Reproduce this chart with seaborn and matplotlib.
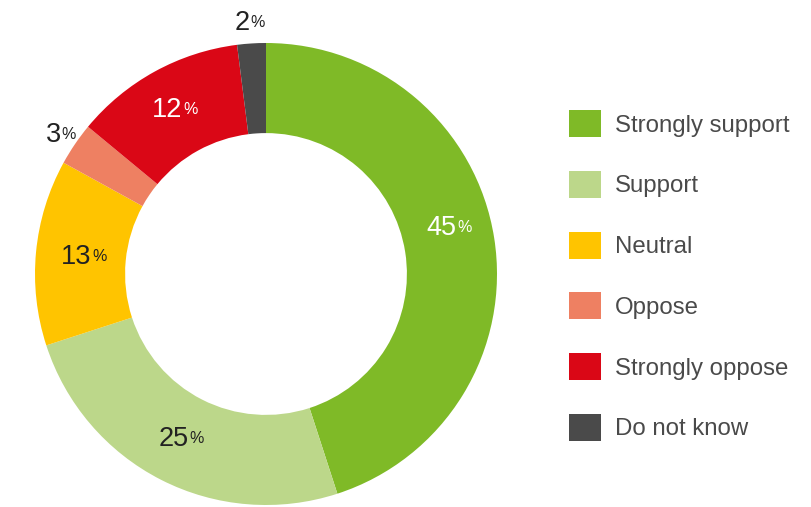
import matplotlib
matplotlib.use('Agg')
import matplotlib.pyplot as plt
import seaborn as sns
import numpy as np
from matplotlib.patches import Patch

# Data
categories = ['Strongly support', 'Support', 'Neutral', 'Oppose', 'Strongly oppose', 'Do not know']
shares = [45, 25, 13, 3, 12, 2]
colors = ['#7FBA27', '#BCD78A', '#FFC400', '#EE8062', '#DA0716', '#4A4A4A']
label_colors = ['white', '#222222', '#222222', '#222222', 'white', '#222222']
label_radius = [0.82, 0.80, 0.79, 1.07, 0.81, 1.09]
label_turn = [5, 0, 0, 0, 0, 0]  # degrees nudged counter-clockwise

sns.set_theme(style='white')
plt.rcParams['font.family'] = ['Liberation Sans', 'DejaVu Sans']

W, H = 811, 507
fig = plt.figure(figsize=(W / 100, H / 100), dpi=100)
cx, cy, r = 266, 233, 231
ax = fig.add_axes([(cx - r) / W, (cy - r) / H, 2 * r / W, 2 * r / H])

wedges, _ = ax.pie(shares, colors=colors, startangle=90, counterclock=False,
                   radius=1.0, wedgeprops=dict(width=0.39, linewidth=0))
ax.set_xlim(-1, 1)
ax.set_ylim(-1, 1)
ax.set_aspect('equal')
ax.axis('off')

# Percentage labels with a smaller % sign
for w, val, col, lr, turn in zip(wedges, shares, label_colors, label_radius, label_turn):
    ang = np.deg2rad((w.theta1 + w.theta2) / 2 + turn)
    x, y = lr * np.cos(ang), lr * np.sin(ang)
    t = ax.annotate(str(val), xy=(x, y), xytext=(-6, 0), textcoords='offset points',
                    ha='center', va='center', fontsize=19.5, color=col,
                    annotation_clip=False)
    ax.annotate('%', xy=(1.0, 0.80), xycoords=t, xytext=(0.5, 0), textcoords='offset points',
                ha='left', va='top', fontsize=11.5, color=col, annotation_clip=False)

handles = [Patch(facecolor=c, edgecolor='none') for c in colors]
fig.legend(handles, categories, loc='upper left',
           bbox_to_anchor=(569 / W, 1 - 110 / H), frameon=False,
           fontsize=17.3, labelcolor='#4A4A4A', handlelength=1.33, handleheight=1.36,
           handletextpad=0.6, labelspacing=1.40, borderpad=0, borderaxespad=0)

fig.savefig('out.png', dpi=100, facecolor='white')
